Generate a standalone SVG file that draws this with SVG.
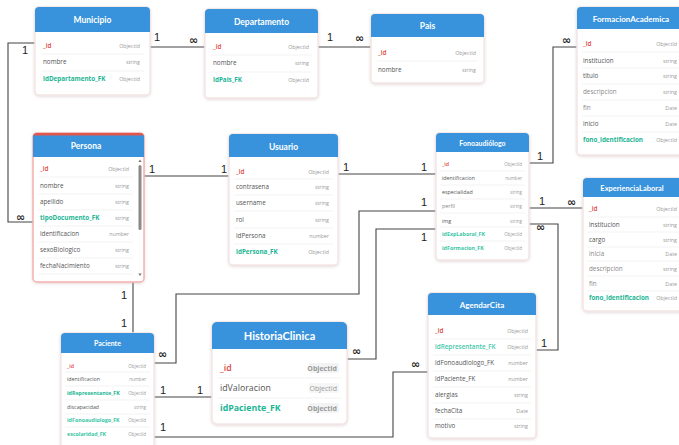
<svg xmlns="http://www.w3.org/2000/svg" width="679" height="445" viewBox="0 0 679 445">
<defs>
<filter id="sh" x="-10%" y="-10%" width="120%" height="125%">
<feDropShadow dx="0" dy="1" stdDeviation="1.5" flood-color="#c9a9a9" flood-opacity="0.45"/>
</filter>
</defs>
<style>
.card{fill:#fff;stroke:#f3e6e6;stroke-width:1.5;filter:url(#sh)}
.hdr{fill:#3893dc}
.ttl{font-family:Lato,"Open Sans",sans-serif;font-weight:700;fill:#fff;text-anchor:middle;font-size:8.5px}
.f{font-family:"Open Sans",sans-serif;font-size:6.3px;fill:#555}
.pk{fill:#e0463c;font-weight:600}
.fk{fill:#1bb594;font-weight:700}
.t{font-family:"Open Sans",sans-serif;font-size:5.3px;fill:#999;text-anchor:end}
.sep{stroke:#f0f0f0;stroke-width:0.8}
.ln{fill:none;stroke:#444;stroke-width:1.1}
.lb{font-family:"Liberation Sans",Arial,sans-serif;font-size:11px;fill:#222}
.inf{font-family:"DejaVu Sans",sans-serif;font-size:11px;font-weight:700;fill:#222}
.big .f{font-size:8.8px}
.big .t{font-size:7px;font-weight:700}
.big .ttl{font-size:11px}
</style>

<g id="connectors">
<path class="ln" d="M150 47H205"/>
<text class="lb" x="154" y="41">1</text><text class="inf" x="189" y="44">∞</text>
<path class="ln" d="M318 47H371"/>
<text class="lb" x="327" y="41">1</text><text class="inf" x="355" y="42">∞</text>
<path class="ln" d="M35 43H8V222H33"/>
<text class="lb" x="22" y="54">1</text><text class="inf" x="16" y="221">∞</text>
<path class="ln" d="M144 176H229"/>
<text class="lb" x="149" y="173">1</text><text class="lb" x="221" y="173">1</text>
<path class="ln" d="M338 174H436"/>
<text class="lb" x="343" y="171">1</text><text class="lb" x="421" y="171">1</text>
<path class="ln" d="M529 163H553V47H577"/>
<text class="lb" x="537" y="160">1</text><text class="inf" x="562" y="44">∞</text>
<path class="ln" d="M529 208H583"/>
<text class="lb" x="539" y="205">1</text><text class="inf" x="567" y="206">∞</text>
<path class="ln" d="M529 224H558V350H536"/>
<text class="inf" x="536" y="231">∞</text><text class="lb" x="541" y="347">1</text>
<path class="ln" d="M133 282V333"/>
<text class="lb" x="121" y="299">1</text><text class="lb" x="121" y="327">1</text>
<path class="ln" d="M154 363H176V294H359V211H436"/>
<text class="inf" x="158" y="358">∞</text><text class="lb" x="421" y="206">1</text>
<path class="ln" d="M347 359H376V229H436"/>
<text class="inf" x="352" y="355">∞</text><text class="lb" x="421" y="241">1</text>
<path class="ln" d="M154 397H212"/>
<text class="lb" x="160" y="394">1</text><text class="lb" x="197" y="394">1</text>
<path class="ln" d="M154 437H393V372H428"/>
<text class="lb" x="160" y="431">1</text><text class="inf" x="411" y="368">∞</text>
</g>

<g id="Municipio">
<rect class="card" x="35" y="7" width="115" height="88" rx="4"/>
<rect class="hdr" x="35" y="7" width="115" height="25" rx="4"/><rect class="hdr" x="35" y="24" width="115" height="8"/>
<text class="ttl" x="92.5" y="23">Municipio</text>
<path class="sep" d="M41 54H144M41 71H144"/>
<text class="f pk" x="43" y="48">_id</text><text class="t" x="140" y="48">ObjectId</text>
<text class="f" x="43" y="64">nombre</text><text class="t" x="140" y="64">string</text>
<text class="f fk" x="43" y="81">idDepartamento_FK</text><text class="t" x="140" y="81">ObjectId</text>
</g>

<g id="Departamento">
<rect class="card" x="205" y="9" width="113" height="89" rx="4"/>
<rect class="hdr" x="205" y="9" width="113" height="24" rx="4"/><rect class="hdr" x="205" y="25" width="113" height="8"/>
<text class="ttl" x="261.5" y="25">Departamento</text>
<path class="sep" d="M211 55H312M211 72H312"/>
<text class="f pk" x="213" y="49">_id</text><text class="t" x="309" y="49">ObjectId</text>
<text class="f" x="213" y="65">nombre</text><text class="t" x="309" y="65">string</text>
<text class="f fk" x="213" y="82">idPais_FK</text><text class="t" x="309" y="82">ObjectId</text>
</g>

<g id="Pais">
<rect class="card" x="371" y="14" width="113" height="69" rx="4"/>
<rect class="hdr" x="371" y="14" width="113" height="23" rx="4"/><rect class="hdr" x="371" y="29" width="113" height="8"/>
<text class="ttl" x="427.5" y="29">Pais</text>
<path class="sep" d="M377 61H478"/>
<text class="f pk" x="378" y="55">_id</text><text class="t" x="476" y="55">ObjectId</text>
<text class="f" x="378" y="72">nombre</text><text class="t" x="476" y="72">string</text>
</g>

<g id="FormacionAcademica">
<rect class="card" x="577" y="7" width="110" height="148" rx="4"/>
<rect class="hdr" x="577" y="7" width="110" height="22" rx="4"/><rect class="hdr" x="577" y="21" width="110" height="8"/>
<text class="ttl" x="631" y="21.5" style="font-size:8px">FormacionAcademica</text>
<path class="sep" d="M582 52H679M582 68H679M582 84H679M582 100H679M582 116H679M582 132H679"/>
<text class="f pk" x="583" y="46">_id</text><text class="t" x="677" y="46">ObjectId</text>
<text class="f" x="583" y="63">institucion</text><text class="t" x="677" y="63">string</text>
<text class="f" x="583" y="78">titulo</text><text class="t" x="677" y="78">string</text>
<text class="f" x="583" y="94" style="fill:#888">descripcion</text><text class="t" x="677" y="94">string</text>
<text class="f" x="583" y="110" style="fill:#888">fin</text><text class="t" x="677" y="110">Date</text>
<text class="f" x="583" y="126">inicio</text><text class="t" x="677" y="126">Date</text>
<text class="f fk" x="583" y="142">fono_identificacion</text><text class="t" x="677" y="142">ObjectId</text>
</g>

<g id="Persona">
<rect class="card" x="33" y="133" width="111" height="149" rx="4" style="stroke:#f3b3b0"/>
<rect x="33" y="133" width="111" height="24" rx="4" fill="#e2564e"/>
<rect class="hdr" x="33" y="135.5" width="111" height="21.5"/>
<text class="ttl" x="86" y="149">Persona</text>
<path class="sep" d="M38 177H133M38 194H133M38 210H133M38 226H133M38 242H133M38 258H133M38 274H133"/>
<text class="f pk" x="40" y="171">_id</text><text class="t" x="129" y="171">ObjectId</text>
<text class="f" x="40" y="188">nombre</text><text class="t" x="129" y="188">string</text>
<text class="f" x="40" y="204">apellido</text><text class="t" x="129" y="204">string</text>
<text class="f fk" x="40" y="220">tipoDocumento_FK</text><text class="t" x="129" y="220">string</text>
<text class="f" x="40" y="236">identificacion</text><text class="t" x="129" y="236">number</text>
<text class="f" x="40" y="252">sexoBiologico</text><text class="t" x="129" y="252">string</text>
<text class="f" x="40" y="268">fechaNacimiento</text><text class="t" x="129" y="268">string</text>
<rect x="138.5" y="165" width="3" height="65" rx="1.5" fill="#8a8a8a"/>
<path d="M138.3 162L140 159.5L141.7 162Z" fill="#777"/>
<path d="M138.3 273.5L140 276L141.7 273.5Z" fill="#777"/>
</g>

<g id="Usuario">
<rect class="card" x="229" y="134" width="109" height="131" rx="4"/>
<rect class="hdr" x="229" y="134" width="109" height="23" rx="4"/><rect class="hdr" x="229" y="149" width="109" height="8"/>
<text class="ttl" x="283.5" y="150">Usuario</text>
<path class="sep" d="M234 179H333M234 195H333M234 211H333M234 228H333M234 244H333"/>
<text class="f pk" x="236" y="174">_id</text><text class="t" x="329" y="174">ObjectId</text>
<text class="f" x="236" y="189">contrasena</text><text class="t" x="329" y="189">string</text>
<text class="f" x="236" y="205">username</text><text class="t" x="329" y="205">string</text>
<text class="f" x="236" y="222">rol</text><text class="t" x="329" y="222">string</text>
<text class="f" x="236" y="238">idPersona</text><text class="t" x="329" y="238">number</text>
<text class="f fk" x="236" y="254">idPersona_FK</text><text class="t" x="329" y="254">ObjectId</text>
</g>

<g id="Fonoaudiologo">
<rect class="card" x="436" y="133" width="93" height="127" rx="4"/>
<rect class="hdr" x="436" y="133" width="93" height="19" rx="4"/><rect class="hdr" x="436" y="145" width="93" height="7"/>
<text class="ttl" x="482.5" y="145.5" style="font-size:7px">Fonoaudiólogo</text>
<path class="sep" d="M440 171H525M440 185H525M440 199H525M440 213H525M440 227H525M440 241H525"/>
<g style="font-size:5.3px">
<text class="f pk" x="442" y="166" style="font-size:5.3px">_id</text><text class="t" x="522" y="166" style="font-size:4.5px">ObjectId</text>
<text class="f" x="442" y="180" style="font-size:5.3px">identificacion</text><text class="t" x="522" y="180" style="font-size:4.5px">number</text>
<text class="f" x="442" y="194" style="font-size:5.3px">especialidad</text><text class="t" x="522" y="194" style="font-size:4.5px">string</text>
<text class="f" x="442" y="208" style="font-size:5.3px;fill:#888">perfil</text><text class="t" x="522" y="208" style="font-size:4.5px">string</text>
<text class="f" x="442" y="223" style="font-size:5.3px">img</text><text class="t" x="522" y="223" style="font-size:4.5px">string</text>
<text class="f fk" x="442" y="236" style="font-size:5.3px;fill:#3cc6a6">idExpLaboral_FK</text><text class="t" x="522" y="236" style="font-size:4.5px">ObjectId</text>
<text class="f fk" x="442" y="250" style="font-size:5.3px;fill:#3cc6a6">idFormacion_FK</text><text class="t" x="522" y="250" style="font-size:4.5px">ObjectId</text>
</g>
</g>

<g id="ExperienciaLaboral">
<rect class="card" x="583" y="178" width="105" height="133" rx="4"/>
<rect class="hdr" x="583" y="178" width="105" height="19" rx="4"/><rect class="hdr" x="583" y="190" width="105" height="7"/>
<text class="ttl" x="632" y="190.5" style="font-size:7.5px">ExperienciaLaboral</text>
<path class="sep" d="M587 217H679M587 232H679M587 247H679M587 261H679M587 276H679M587 291H679"/>
<text class="f pk" x="589" y="211">_id</text><text class="t" x="677" y="211">ObjectId</text>
<text class="f" x="589" y="227">institucion</text><text class="t" x="677" y="227">string</text>
<text class="f" x="589" y="242">cargo</text><text class="t" x="677" y="242">string</text>
<text class="f" x="589" y="256" style="fill:#888">inicia</text><text class="t" x="677" y="256">Date</text>
<text class="f" x="589" y="271" style="fill:#888">descripcion</text><text class="t" x="677" y="271">string</text>
<text class="f" x="589" y="286" style="fill:#888">fin</text><text class="t" x="677" y="286">Date</text>
<text class="f fk" x="589" y="300">fono_identificacion</text><text class="t" x="677" y="300">ObjectId</text>
</g>

<g id="Paciente">
<rect class="card" x="61" y="333" width="93" height="125" rx="4"/>
<rect class="hdr" x="61" y="333" width="93" height="20" rx="4"/><rect class="hdr" x="61" y="346" width="93" height="7"/>
<text class="ttl" x="107.5" y="346" style="font-size:7px">Paciente</text>
<path class="sep" d="M65 372H150M65 386H150M65 400H150M65 414H150M65 427H150"/>
<text class="f pk" x="67" y="368" style="font-size:5.3px">_id</text><text class="t" x="146" y="368" style="font-size:4.5px">ObjectId</text>
<text class="f" x="67" y="381" style="font-size:5.3px">identificacion</text><text class="t" x="146" y="381" style="font-size:4.5px">number</text>
<text class="f fk" x="67" y="395" style="font-size:5.3px">idRepresentante_FK</text><text class="t" x="146" y="395" style="font-size:4.5px">ObjectId</text>
<text class="f" x="67" y="409" style="font-size:5.3px">discapacidad</text><text class="t" x="146" y="409" style="font-size:4.5px">string</text>
<text class="f fk" x="67" y="422" style="font-size:5.3px;fill:#3cc6a6">idFonoaudiologo_FK</text><text class="t" x="146" y="422" style="font-size:4.5px">ObjectId</text>
<text class="f fk" x="67" y="436" style="font-size:5.3px;fill:#3cc6a6">escolaridad_FK</text><text class="t" x="146" y="436" style="font-size:4.5px">ObjectId</text>
</g>

<g id="HistoriaClinica" class="big">
<rect class="card" x="212" y="322" width="135" height="102" rx="5"/>
<rect class="hdr" x="212" y="322" width="135" height="27" rx="5"/><rect class="hdr" x="212" y="340" width="135" height="9"/>
<text class="ttl" x="279.5" y="340">HistoriaClinica</text>
<path class="sep" d="M218 378H341M218 398H341"/>
<rect x="309" y="363" width="30" height="10" rx="2" fill="#f3f3f3"/>
<rect x="309" y="383" width="30" height="10" rx="2" fill="#f6f6f6"/>
<rect x="309" y="403" width="30" height="10" rx="2" fill="#f3f3f3"/>
<text class="f pk" x="220" y="371">_id</text><text class="t" x="337" y="370.5">ObjectId</text>
<text class="f" x="220" y="391">idValoracion</text><text class="t" x="337" y="390.5" style="font-weight:400">ObjectId</text>
<text class="f fk" x="220" y="411">idPaciente_FK</text><text class="t" x="337" y="410.5">ObjectId</text>
</g>

<g id="AgendarCita">
<rect class="card" x="428" y="293" width="108" height="145" rx="4"/>
<rect class="hdr" x="428" y="293" width="108" height="22" rx="4"/><rect class="hdr" x="428" y="307" width="108" height="8"/>
<text class="ttl" x="482" y="307.5" style="font-size:8px">AgendarCita</text>
<path class="sep" d="M433 339H531M433 355H531M433 371H531M433 387H531M433 403H531M433 419H531"/>
<text class="f pk" x="435" y="333">_id</text><text class="t" x="528" y="333">ObjectId</text>
<text class="f fk" x="435" y="349" style="fill:#44c9aa;font-weight:600">idRepresentante_FK</text><text class="t" x="528" y="349">ObjectId</text>
<text class="f" x="435" y="365">idFonoaudiologo_FK</text><text class="t" x="528" y="365">number</text>
<text class="f" x="435" y="381">idPaciente_FK</text><text class="t" x="528" y="381">number</text>
<text class="f" x="435" y="397">alergias</text><text class="t" x="528" y="397">string</text>
<text class="f" x="435" y="413">fechaCita</text><text class="t" x="528" y="413">Date</text>
<text class="f" x="435" y="428">motivo</text><text class="t" x="528" y="428">string</text>
</g>
</svg>
